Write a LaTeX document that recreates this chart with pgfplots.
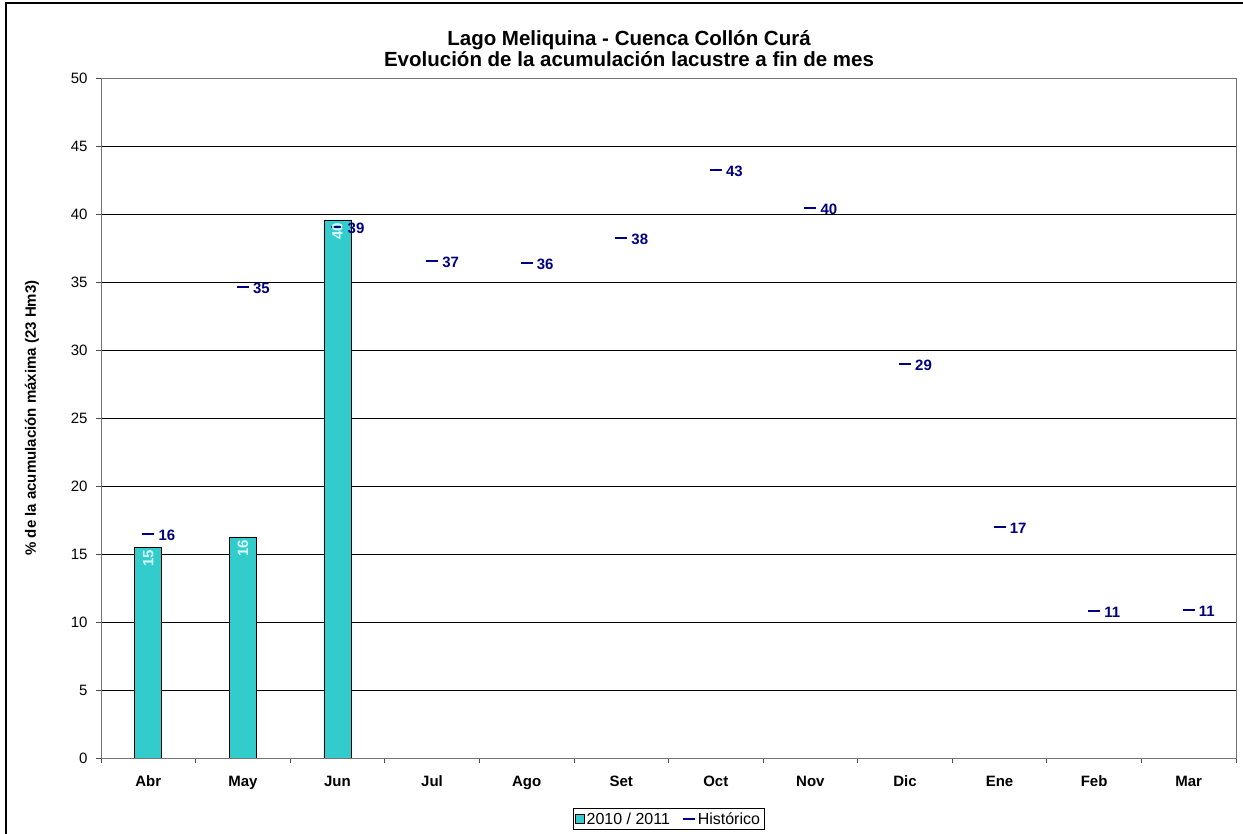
\documentclass[border=0pt]{standalone}
\usepackage{pgfplots}
\pgfplotsset{compat=1.18}
\usepackage{fontspec}
\setmainfont{Liberation Sans}

\definecolor{barcyan}{HTML}{33CCCC}
\definecolor{histnavy}{HTML}{000080}
\definecolor{barlbl}{HTML}{D8FFFF}

\begin{document}
\begin{tikzpicture}
\useasboundingbox (-101pt,-76pt) rectangle (1142pt,758pt);
\begin{axis}[
    scale only axis,
    width=1135pt, height=680pt,
    xmin=-0.5, xmax=11.5,
    ymin=0, ymax=50,
    ytick={0,5,...,50},
    xtick={0,...,11},
    xticklabels={Abr,May,Jun,Jul,Ago,Set,Oct,Nov,Dic,Ene,Feb,Mar},
    minor xtick={-0.5,0.5,...,11.5},
    major x tick style={draw=none},
    tick align=outside,
    tick pos=left,
    major tick length=5pt,
    minor tick length=5pt,
    tick style={black!70, line width=0.8pt},
    axis line style={black!55, line width=0.9pt},
    ymajorgrids=true,
    grid style={black, line width=0.8pt},
    /pgf/number format/assume math mode=true,
    yticklabel style={font=\fontsize{15}{18}\selectfont, xshift=-5pt},
    xticklabel style={font=\fontsize{15}{18}\selectfont\bfseries, anchor=base, yshift=-24pt},
    ylabel={\% de la acumulación máxima (23 Hm3)},
    ylabel style={font=\fontsize{15}{17}\selectfont\bfseries, at={(axis description cs:-0.0608,0.5)}, anchor=center},
    legend style={at={(axis description cs:0.5,-0.0735)}, anchor=north,
        legend columns=-1, draw=black, line width=0.8pt,
        font=\fontsize{16}{18}\selectfont, inner sep=2pt,
        /tikz/every even column/.append style={column sep=10pt}},
]
% 2010 / 2011
\addplot[ybar, bar width=0.285, fill=barcyan, draw=black, line width=0.7pt,
    legend image code/.code={\draw[fill=barcyan, draw=black, line width=0.6pt] (0pt,-4.5pt) rectangle (9pt,4.5pt);}]
    coordinates {(0,15.51) (1,16.25) (2,39.56)};
\addlegendentry{2010 / 2011}
% Historico
\addplot[only marks, mark=-, mark size=6pt, mark options={line width=1.8pt}, color=histnavy,
    nodes near coords, point meta=explicit symbolic,
    every node near coord/.append style={anchor=west, xshift=6pt, yshift=-1.5pt,
        font=\fontsize{15}{17}\selectfont\bfseries, text=histnavy},
    legend image code/.code={\draw[histnavy, line width=1.8pt] (0pt,0pt) -- (12pt,0pt);}]
    coordinates {
    (0,16.47)[16] (1,34.63)[35] (2,39.04)[39] (3,36.54)[37] (4,36.40)[36] (5,38.24)[38]
    (6,43.24)[43] (7,40.44)[40] (8,28.97)[29] (9,16.99)[17] (10,10.81)[11] (11,10.88)[11]};
\addlegendentry{Histórico}
% bar value labels
\addplot[draw=none, forget plot, nodes near coords, point meta=explicit symbolic,
    every node near coord/.append style={rotate=90, anchor=east, inner sep=3pt,
        font=\fontsize{15}{17}\selectfont\bfseries, text=barlbl}]
    coordinates {(0,15.51)[15] (1,16.25)[16] (2,39.56)[40]};
\end{axis}
\draw[black, line width=1.2pt] (-95pt,-76pt) -- (-95pt,755pt) -- (1142pt,755pt);
\node[font=\fontsize{20.5}{23}\selectfont\bfseries, anchor=base] at (528pt,712pt) {Lago Meliquina - Cuenca Collón Curá};
\node[font=\fontsize{20.5}{23}\selectfont\bfseries, anchor=base] at (528pt,691pt) {Evolución de la acumulación lacustre a fin de mes};
\end{tikzpicture}
\end{document}
